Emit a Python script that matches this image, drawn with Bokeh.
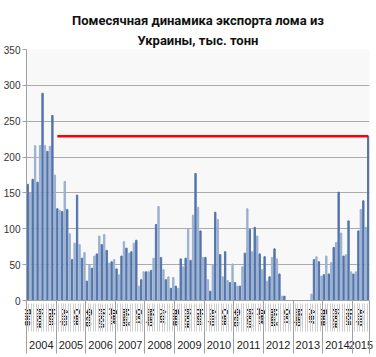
from bokeh.plotting import figure
from bokeh.models import (Range1d, LinearAxis, FixedTicker, Title, ColumnDataSource)
from bokeh.embed import file_html
from bokeh.resources import INLINE

# ---- data ----
month_names = ["Янв", "Фев", "Мар", "Апр", "Май", "Июн",
               "Июл", "Авг", "Сен", "Окт", "Ноя", "Дек"]
years = [2004, 2005, 2006, 2007, 2008, 2009, 2010, 2011, 2012, 2013, 2014, 2015]

export_2004 = [162, 150, 169, 216, 165, 216, 289, 216, 208, 215, 258, 175]
export_2005 = [128, 126, 124, 166, 127, 93, 57, 80, 147, 78, 59, 67]
export_2006 = [27, 50, 45, 62, 65, 90, 78, 92, 70, 52, 54, 57]
export_2007 = [44, 36, 62, 82, 73, 66, 68, 80, 84, 20, 29, 40]
export_2008 = [40, 40, 42, 59, 106, 131, 60, 43, 29, 33, 17, 32]
export_2009 = [20, 17, 58, 47, 59, 100, 56, 119, 177, 130, 97, 60]
export_2010 = [60, 29, 13, 50, 123, 113, 64, 33, 68, 28, 25, 51]
export_2011 = [25, 20, 20, 47, 66, 128, 99, 68, 102, 90, 65, 43]
export_2012 = [61, 27, 33, 60, 72, 58, 37, 6, 6, 0, 0, 0]
export_2013 = [0, 0, 0, 0, 0, 0, 0, 9, 57, 61, 54, 34]
export_2014 = [36, 62, 37, 53, 74, 81, 151, 94, 62, 64, 111, 40]
export_2015 = [37, 40, 97, 127, 139, 102, 229]

red_level = 229          # horizontal red line value
red_start_month = 13     # Jan 2005 (month index)

# ---- build series ----
values = (export_2004 + export_2005 + export_2006 + export_2007 + export_2008 +
          export_2009 + export_2010 + export_2011 + export_2012 + export_2013 +
          export_2014 + export_2015)
n = len(values)
xs = list(range(1, n + 1))
bar_colors = ["#5174AC" if i % 2 == 0 else "#9BB0CF" for i in range(n)]
src = ColumnDataSource(dict(x=xs, top=values, color=bar_colors))

label_ticks = xs[::5]
label_over = {i: month_names[(i - 1) % 12] for i in label_ticks}
month_bounds = [i + 0.5 for i in range(0, n + 1)]

year_centers, year_bounds, year_over = [], [], {}
for k, yr in enumerate(years):
    s = 12 * k + 1
    e = min(12 * k + 12, n)
    c = (s + e) / 2
    year_centers.append(c)
    year_over[c] = str(yr)
    year_bounds.append(s - 0.5)
year_bounds.append(n + 0.5)

TITLE_FONT = "Roboto"

# ---- figure ----
p = figure(width=376, height=357, output_backend="svg", toolbar_location=None,
           x_range=Range1d(0.5, n + 0.5), y_range=Range1d(0, 350),
           min_border_left=24, min_border_right=7, min_border_top=49,
           min_border_bottom=57)
p.background_fill_color = "#F8F8F8"
p.border_fill_color = "white"
p.outline_line_color = None

p.add_layout(Title(text="Украины, тыс. тонн", align="center",
                   text_font=TITLE_FONT, text_font_size="13px",
                   text_font_style="bold", text_color="#111111",
                   standoff=3, offset=-6), "above")
p.add_layout(Title(text="Помесячная динамика экспорта лома из", align="center",
                   text_font=TITLE_FONT, text_font_size="13px",
                   text_font_style="bold", text_color="#111111",
                   standoff=3, offset=-6), "above")

p.vbar(x="x", top="top", width=0.55, color="color", source=src)
p.line(x=[red_start_month, n], y=[red_level, red_level], color="#FF0000", line_width=2.5)

# y axis
yax = p.yaxis[0]
yax.ticker = FixedTicker(ticks=list(range(0, 351, 50)))
yax.axis_line_color = "#A0A0A0"
yax.major_tick_out = 4
yax.major_tick_in = 0
yax.major_tick_line_color = "#A0A0A0"
yax.minor_tick_line_color = None
yax.major_label_standoff = 2
yax.major_label_text_font = "Liberation Sans"
yax.major_label_text_font_size = "10px"
yax.major_label_text_color = "#333333"
p.ygrid.ticker = FixedTicker(ticks=list(range(0, 351, 50)))
p.ygrid.grid_line_color = "#ABABAB"
p.xgrid.visible = False

# x axis 1 : month labels (no ticks)
xax = p.xaxis[0]
xax.ticker = FixedTicker(ticks=label_ticks, minor_ticks=[])
xax.major_label_overrides = label_over
xax.major_label_orientation = "vertical"
xax.axis_line_color = "#A0A0A0"
xax.major_tick_out = 0
xax.major_tick_in = 0
xax.minor_tick_out = 0
xax.minor_tick_in = 0
xax.minor_tick_line_color = None
xax.major_label_standoff = 8
xax.major_label_text_font = "Liberation Sans"
xax.major_label_text_font_size = "9px"
xax.major_label_text_font_style = "bold"
xax.major_label_text_color = "#222222"

# x axis 2 : years, with month separators reaching up
yr_ax = LinearAxis(ticker=FixedTicker(ticks=year_centers, minor_ticks=month_bounds))
yr_ax.major_label_overrides = year_over
yr_ax.axis_line_color = None
yr_ax.major_tick_out = 0
yr_ax.major_tick_in = 0
yr_ax.minor_tick_in = 28
yr_ax.minor_tick_out = 0
yr_ax.minor_tick_line_color = "#CFCFCF"
yr_ax.major_label_standoff = 9
yr_ax.major_label_text_font = "Liberation Sans"
yr_ax.major_label_text_font_size = "11px"
yr_ax.major_label_text_color = "#222222"
p.add_layout(yr_ax, "below")

# x axis 3 : year separators reaching up
sep_ax = LinearAxis(ticker=FixedTicker(ticks=[], minor_ticks=year_bounds))
sep_ax.axis_line_color = None
sep_ax.major_tick_out = 0
sep_ax.major_tick_in = 0
sep_ax.minor_tick_in = 51
sep_ax.minor_tick_out = 2
sep_ax.minor_tick_line_color = "#A0A0A0"
sep_ax.major_label_standoff = 0
sep_ax.major_label_text_font_size = "1px"
p.add_layout(sep_ax, "below")

open("out.html", "w").write(file_html(p, INLINE))
